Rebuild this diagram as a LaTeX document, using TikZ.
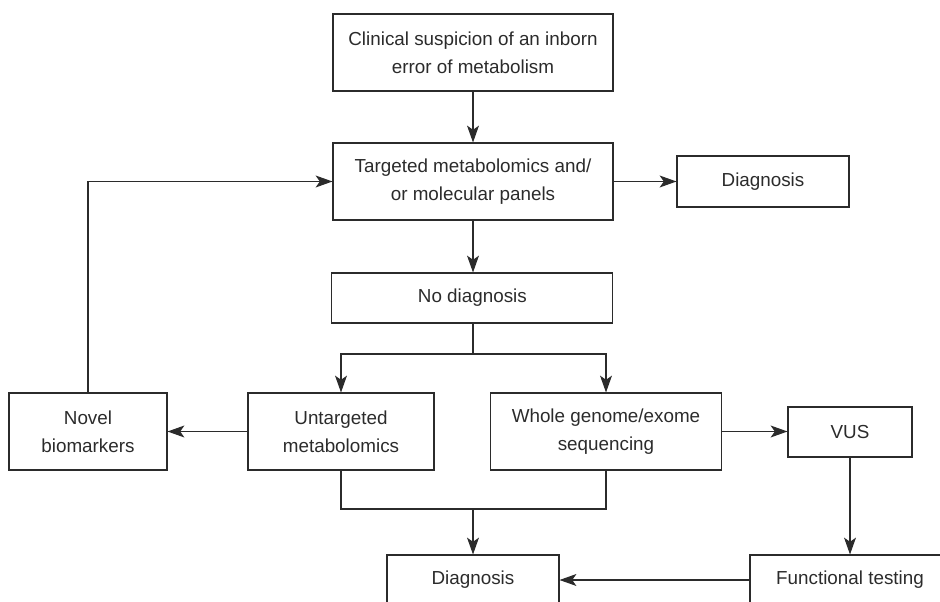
\documentclass[tikz,border=0pt]{standalone}
\usepackage{fontspec}
\setmainfont{Liberation Sans}
\usetikzlibrary{arrows.meta}

\definecolor{inkgray}{HTML}{2B2B2B}

\tikzset{
  box/.style={draw=inkgray, line width=.75pt, rectangle, align=center, text=inkgray,
    font=\fontsize{13.4}{20}\selectfont, inner sep=0pt},
  tall/.style={box, minimum height=1.925cm},
  flat/.style={box, minimum height=1.25cm},
  arr/.style={draw=inkgray, line width=.75pt, -{Stealth[length=12pt,width=8.5pt,inset=3pt]}},
  ln/.style={draw=inkgray, line width=.75pt}
}

\begin{document}
\begin{tikzpicture}
\useasboundingbox (0,0) rectangle (23.5,-15.05);
\clip (0,0) rectangle (23.5,-15.05);
% boxes
\node[tall, minimum width=7cm] (clinical) at (11.825,-1.3125) {Clinical suspicion of an inborn\\error of metabolism};
\node[tall, minimum width=7cm] (targeted) at (11.825,-4.5375) {Targeted metabolomics and/\\or molecular panels};
\node[flat, minimum width=4.3cm, minimum height=1.275cm] (diagtop) at (19.075,-4.5375) {Diagnosis};
\node[flat, minimum width=7.025cm] (nodiag) at (11.81,-7.45) {No diagnosis};
\node[tall, minimum width=3.95cm] (novel) at (2.2,-10.7875) {Novel\\biomarkers};
\node[tall, minimum width=4.65cm] (untargeted) at (8.525,-10.7875) {Untargeted\\metabolomics};
\node[tall, minimum width=5.775cm] (wgs) at (15.15,-10.7875) {Whole genome/exome\\sequencing};
\node[flat, minimum width=3.1cm] (vus) at (21.25,-10.8) {VUS};
\node[flat, minimum width=4.3cm] (diagbot) at (11.825,-14.5) {Diagnosis};
\node[flat, minimum width=5cm] (functional) at (21.25,-14.5) {Functional testing};
% connectors
\coordinate (split) at (11.825,-8.85);
\coordinate (join) at (11.825,-12.725);
\draw[arr] (clinical) -- (targeted);
\draw[arr] (targeted.east) -- (diagtop.west);
\draw[arr] (targeted) -- (nodiag.north -| targeted);
\draw[ln] (nodiag.south -| split) -- (split);
\draw[arr] (split) -| (untargeted.north);
\draw[arr] (split) -| (wgs.north);
\draw[arr] (untargeted.west) -- (novel.east);
\draw[arr] (novel.north) |- (targeted.west);
\draw[ln] (untargeted.south) |- (join) -| (wgs.south);
\draw[arr] (join) -- (diagbot.north);
\draw[arr] (wgs.east) -- (vus.west |- wgs.east);
\draw[arr] (vus.south) -- (functional.north);
\draw[arr] (functional.west) -- (diagbot.east);
\end{tikzpicture}
\end{document}
